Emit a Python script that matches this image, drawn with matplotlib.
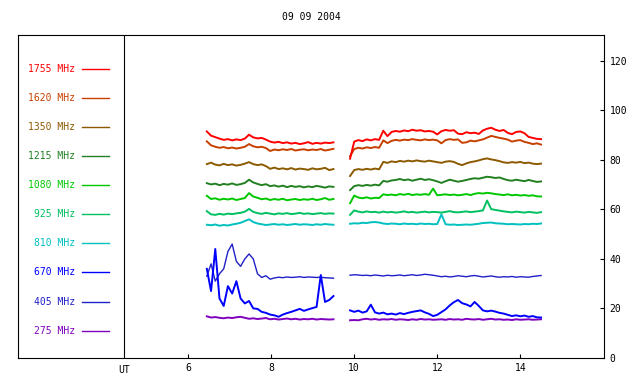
# Radio flux records of the day, one curve per frequency

import numpy as np
import matplotlib
matplotlib.use("Agg")
import matplotlib.pyplot as plt

date_text = "09 09 2004"

labels = ["1755 MHz", "1620 MHz", "1350 MHz", "1215 MHz", "1080 MHz",
          "925 MHz", "810 MHz", "670 MHz", "405 MHz", "275 MHz"]

colors = ["#ff0000", "#c84000", "#8c5a00", "#228022", "#00c800",
          "#00c060", "#00c0c0", "#0000ff", "#2020c8", "#8000c0"]

# Morning block 6.45 - 9.5 UT, afternoon block 9.9 - 14.5 UT
t_am = np.linspace(6.45, 9.5, 31)
t_pm = np.linspace(9.9, 14.5, 47)

red_am = [91.5, 89.8, 89.2, 88.6, 88.1, 88.4, 87.9, 88.3, 88.0, 88.6, 90.2,
          89.1, 88.7, 88.9, 88.2, 87.4, 87.0, 87.3, 86.8, 87.1, 86.6, 86.9,
          86.4, 86.7, 87.2, 86.5, 86.9, 86.6, 87.0, 86.8, 87.1]
red_pm = [80.5, 87.4, 88.0, 87.6, 88.3, 87.9, 88.4, 88.1, 91.8, 89.6, 91.3,
          91.7, 91.4, 91.9, 91.6, 92.2, 91.8, 92.0, 91.5, 91.7, 91.4, 90.3,
          91.6, 92.1, 91.8, 92.0, 90.6, 90.4, 91.2, 90.8, 91.0, 90.5, 91.9,
          92.6, 93.0, 92.2, 91.7, 92.1, 90.9, 90.4, 91.3, 91.5, 90.8, 89.3,
          88.9, 88.5, 88.4]

orange_am = [87.5, 85.9, 85.3, 84.9, 85.2, 84.7, 85.0, 84.6, 84.9, 85.3,
             86.4, 85.5, 85.1, 85.3, 84.8, 83.6, 84.2, 83.9, 84.3, 84.0,
             84.4, 83.8, 84.1, 84.3, 83.9, 84.2, 84.0, 84.4, 83.8, 84.1, 84.5]
orange_pm = [81.5, 84.4, 84.9, 84.6, 85.1, 84.8, 85.2, 84.9, 87.9, 86.8,
             87.7, 88.1, 87.8, 88.2, 88.0, 88.4, 88.1, 87.9, 88.3, 88.0,
             88.2, 87.9, 86.7, 88.0, 88.4, 88.1, 88.3, 86.9, 87.1, 87.8,
             87.5, 87.9, 88.3, 89.0, 89.7, 89.3, 88.9, 88.6, 88.2, 87.4,
             87.8, 88.0, 87.3, 86.9, 86.4, 86.7, 86.2]

brown_am = [78.3, 78.9, 78.1, 77.8, 78.4, 77.9, 78.2, 77.7, 78.0, 78.5,
            79.1, 78.3, 77.9, 78.2, 77.5, 76.4, 76.9, 76.3, 76.6, 76.2,
            76.7, 76.1, 76.5, 76.3, 76.0, 76.6, 76.2, 76.4, 76.8, 75.9, 76.3]
brown_pm = [73.5, 75.9, 76.3, 76.0, 76.4, 76.1, 76.5, 76.2, 79.2, 78.8,
            79.4, 79.1, 79.6, 79.3, 79.7, 79.4, 79.8, 79.5, 79.3, 79.7,
            79.4, 79.1, 78.8, 79.3, 79.5, 79.2, 78.4, 77.9, 78.6, 79.1,
            79.4, 79.8, 80.3, 80.6, 80.2, 79.9, 79.5, 79.0, 78.8, 79.1,
            78.9, 79.2, 78.7, 78.9, 78.5, 78.3, 78.5]

dgreen_am = [70.6, 70.1, 70.4, 69.8, 70.3, 70.0, 70.5, 69.9, 70.2, 70.7,
             72.0, 70.9, 70.3, 69.8, 70.2, 69.4, 69.7, 69.2, 69.6, 69.0,
             69.5, 69.1, 69.4, 68.9, 69.3, 69.0, 69.5, 69.2, 68.8, 69.3, 69.1]
dgreen_pm = [67.8, 69.4, 69.8, 69.5, 69.9, 69.6, 70.0, 69.7, 71.5, 71.2,
             71.7, 71.9, 72.3, 71.8, 72.1, 71.6, 72.0, 72.4, 71.9, 72.2,
             71.8, 71.3, 70.7, 71.4, 72.0, 71.6, 71.2, 71.5, 71.9, 72.3,
             72.6, 72.4, 72.8, 73.2, 73.0, 72.7, 72.9, 72.3, 71.8, 71.6,
             72.0, 71.7, 71.4, 71.9, 71.5, 71.1, 71.3]

green_am = [65.5, 64.2, 64.5, 63.9, 64.3, 64.0, 64.4, 63.8, 64.2, 64.6,
            66.6, 65.2, 64.7, 64.1, 64.4, 63.8, 64.2, 63.9, 64.3, 63.7,
            64.0, 64.2, 63.8, 64.1, 63.9, 64.3, 63.8, 64.1, 64.6, 63.9, 64.2]
green_pm = [62.5, 65.6, 64.8, 64.5, 64.9, 64.4, 64.7, 64.6, 66.1, 65.8,
            66.0, 65.7, 66.2, 65.9, 66.3, 65.8, 66.1, 65.9, 66.2, 65.9,
            68.4, 65.7, 65.9, 66.1, 65.8, 66.0, 65.7, 65.9, 66.2, 65.8,
            66.3, 66.6, 66.4, 66.7, 66.5, 66.2, 66.0, 65.8, 66.1, 65.7,
            65.9, 65.6, 65.8, 65.5, 65.7, 65.3, 65.2]

sgreen_am = [59.3, 58.0, 57.8, 58.2, 57.9, 58.3, 58.1, 58.4, 58.6, 59.1,
             60.2, 59.0, 58.5, 58.2, 58.6, 58.3, 58.0, 58.4, 58.2, 58.5,
             58.1, 58.3, 58.6, 58.2, 58.4, 58.1, 58.3, 58.5, 58.2, 58.4, 58.3]
sgreen_pm = [57.8, 59.6, 59.1, 58.8, 59.2, 58.9, 59.0, 58.7, 59.1, 58.8,
             59.0, 58.7, 58.9, 59.2, 58.8, 59.0, 58.7, 58.9, 59.1, 58.8,
             59.0, 58.9, 58.7, 59.0, 59.3, 58.9, 58.8, 59.0, 59.2, 58.9,
             59.1, 59.3, 59.6, 63.6, 60.1, 59.8, 59.5, 59.2, 59.0, 58.8,
             59.1, 58.9, 58.7, 59.0, 58.8, 58.6, 58.9]

cyan_am = [53.8, 53.6, 53.9, 53.4, 53.7, 53.5, 53.9, 54.2, 54.6, 55.3,
           56.0, 54.9, 54.3, 54.0, 53.7, 53.9, 54.1, 53.8, 54.0, 53.7,
           53.9, 54.1, 53.8, 54.0, 53.9, 53.7, 54.0, 53.8, 54.1, 53.9, 53.8]
cyan_pm = [54.2, 54.4, 54.3, 54.6, 54.5, 54.8, 54.9, 54.7, 54.3, 54.1,
           54.3, 54.2, 54.0, 54.3, 54.1, 54.2, 54.0, 54.3, 54.1, 54.2,
           54.0, 54.1, 58.0, 54.0, 53.8, 53.9, 53.7, 53.8, 53.9, 53.8,
           54.0, 54.2, 54.5, 54.6, 54.7, 54.4, 54.3, 54.2, 54.0, 54.1,
           54.0, 53.9, 54.1, 54.0, 54.2, 54.1, 54.3]

blue_am = [36.0, 27.0, 44.0, 24.0, 21.0, 29.0, 26.0, 31.0, 24.0, 22.0,
           23.0, 20.0, 19.8, 18.6, 18.2, 17.5, 17.2, 16.6, 17.5, 18.1,
           18.6, 19.2, 19.8, 19.0, 19.6, 20.1, 20.6, 33.5, 22.6, 23.4, 25.0]
blue_pm = [19.2, 18.6, 19.1, 18.3, 18.8, 21.5, 18.4, 17.9, 18.3, 17.6,
           17.9, 17.5, 18.1, 17.7, 18.2, 18.6, 18.9, 19.2, 18.4, 17.8,
           16.9, 17.4, 18.5, 19.6, 21.2, 22.5, 23.4, 22.1, 21.6, 20.8,
           22.6, 21.0, 19.2, 18.8, 19.1, 18.7, 18.2, 17.9, 17.4, 16.9,
           17.2, 16.8, 17.1, 16.6, 16.9, 16.4, 16.3]

dblue_am = [33.0, 38.0, 31.0, 34.0, 36.0, 43.0, 46.0, 39.0, 37.0, 40.0,
            42.0, 40.0, 34.0, 32.5, 33.2, 31.8, 32.3, 32.6, 32.4, 32.7,
            32.5, 32.6, 32.8, 32.5, 32.7, 32.6, 32.5, 32.6, 32.4, 32.3, 32.2]
dblue_pm = [33.4, 33.6, 33.5, 33.3, 33.4, 33.2, 33.5, 33.3, 33.1, 33.4,
            33.2, 33.3, 33.5, 33.2, 33.4, 33.6, 33.3, 33.5, 33.8, 33.6,
            33.4, 33.1, 32.8, 33.0, 32.7, 32.9, 33.2, 33.0, 32.8, 33.1,
            33.3, 33.0, 32.7, 32.9, 33.1, 32.8, 32.6, 32.8, 32.7, 32.9,
            32.6, 32.8, 32.7, 32.6, 32.9, 33.1, 33.3]

purple_am = [16.8, 16.3, 16.5, 16.2, 16.0, 16.3, 16.1, 16.4, 16.6, 16.2,
             15.8, 16.0, 15.7, 15.9, 16.1, 15.6, 15.8, 15.5, 15.7, 15.9,
             15.6, 15.8, 15.5, 15.7, 15.6, 15.8, 15.5, 15.7, 15.6, 15.5, 15.6]
purple_pm = [15.2, 15.3, 15.2, 15.6, 15.8, 15.5, 15.7, 15.4, 15.6, 15.5,
             15.7, 15.4, 15.6, 15.5, 15.3, 15.6, 15.4, 15.7, 15.5, 15.6,
             15.4, 15.5, 15.6, 15.4, 15.7, 15.5, 15.6, 15.4, 15.8, 15.6,
             15.5, 15.7, 15.4, 15.6, 15.8, 15.5, 15.6, 15.4, 15.5, 15.3,
             15.6, 15.4, 15.5, 15.6, 15.4, 15.5, 15.6]

series_am = [red_am, orange_am, brown_am, dgreen_am, green_am,
             sgreen_am, cyan_am, blue_am, dblue_am, purple_am]
series_pm = [red_pm, orange_pm, brown_pm, dgreen_pm, green_pm,
             sgreen_pm, cyan_pm, blue_pm, dblue_pm, purple_pm]

x_ticks = [6, 8, 10, 12, 14]
y_ticks = [0, 20, 40, 60, 80, 100, 120]
legend_edge = 4.46  # UT of the line that closes the legend column


def make_plot():
    """
    Draws the flux curves with the frequency legend on the left.
    """
    font = "DejaVu Sans Mono"
    fig = plt.figure(figsize=(6.4, 3.84), dpi=100)
    ax = fig.add_axes([0.028, 0.068, 0.916, 0.841])

    for i in range(len(labels))[::-1]:
        # the 405 MHz curve is a thin, quiet one
        lw = 1.0 if i == 8 else 1.4
        ax.plot(t_am, series_am[i], color=colors[i], linewidth=lw)
        ax.plot(t_pm, series_pm[i], color=colors[i], linewidth=lw)

    ax.set_xlim(1.9, 16.02)
    ax.set_ylim(0, 130.5)

    ax.axvline(legend_edge, color="black", linewidth=0.8)

    # legend column: name and a short line in the channel colour
    for i, label in enumerate(labels):
        y = 0.896 - i * 0.0902
        ax.text(0.098, y, label, color=colors[i], fontsize=7, family=font,
                ha="right", va="center", transform=ax.transAxes)
        ax.plot([0.110, 0.156], [y, y], color=colors[i], linewidth=1.0,
                transform=ax.transAxes)

    ax.set_xticks(x_ticks)
    ax.set_xticklabels([str(v) for v in x_ticks])
    ax.set_yticks(y_ticks)
    ax.set_yticklabels([str(v) for v in y_ticks])
    ax.yaxis.tick_right()
    ax.tick_params(direction="in", length=3, width=0.8, labelsize=7,
                   pad=4)
    for lab in ax.get_xticklabels() + ax.get_yticklabels():
        lab.set_family(font)

    ax.text(legend_edge, -0.022, "UT", fontsize=7, family=font,
            ha="center", va="top",
            transform=ax.get_xaxis_transform())

    ax.set_title(date_text, fontsize=7, family=font, pad=11)

    fig.savefig("out.png", dpi=100)


if __name__ == '__main__':
    make_plot()
